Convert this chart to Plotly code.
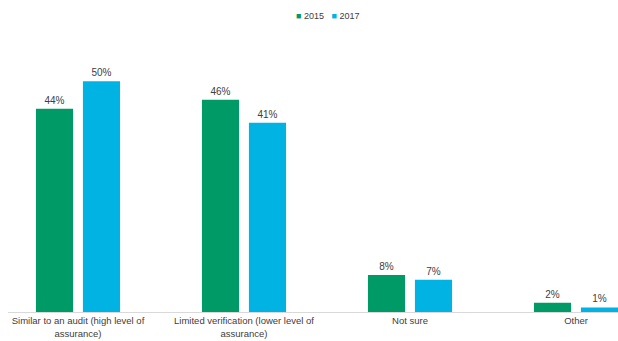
import plotly.graph_objects as go

categories = ["Similar to an audit (high level of<br>assurance)",
              "Limited verification (lower level of<br>assurance)",
              "Not sure",
              "Other"]
values_2015 = [44, 46, 8, 2]
values_2017 = [50, 41, 7, 1]
series_names = ["2015", "2017"]

green = "#009A66"
blue = "#00B3E2"
txt = "#404040"
font_family = "Liberation Sans, Arial"

fig = go.Figure()
for name, vals, col in [(series_names[0], values_2015, green), (series_names[1], values_2017, blue)]:
    fig.add_trace(go.Bar(
        name=name, x=list(range(len(categories))), y=vals, marker_color=col,
        marker_line_width=0,
        text=[f"{v}%" for v in vals], textposition="outside",
        textfont=dict(size=10, color=txt, family=font_family),
        cliponaxis=False,
    ))

legend_text = "   ".join(
    f"<span style='color:{c}'>■</span> {n}" for n, c in zip(series_names, [green, blue])
)
fig.add_annotation(
    x=1.5, xref="x", y=16, yref="paper", yanchor="middle", xanchor="center",
    text=legend_text, showarrow=False,
    font=dict(size=9, color=txt, family=font_family),
)
# convert legend y from pixel to paper
fig.layout.annotations[0].y = (341 - 29 - 16) / (341 - 35 - 29)

fig.update_layout(
    width=618, height=341,
    margin=dict(l=8, r=0, t=35, b=29),
    paper_bgcolor="white", plot_bgcolor="white",
    barmode="group", bargap=0.434, bargroupgap=0.21,
    font=dict(family=font_family, size=10, color=txt),
    showlegend=False,
)
fig.update_xaxes(
    tickmode="array", tickvals=list(range(len(categories))), ticktext=categories,
    range=[-0.4217, 3.253], showline=True, linecolor="#d9d9d9", linewidth=1,
    showgrid=False, ticks="", tickfont=dict(size=9.5, color=txt),
)
fig.update_yaxes(range=[0, 60], visible=False, showgrid=False, zeroline=False)

fig.write_html("out.html")
